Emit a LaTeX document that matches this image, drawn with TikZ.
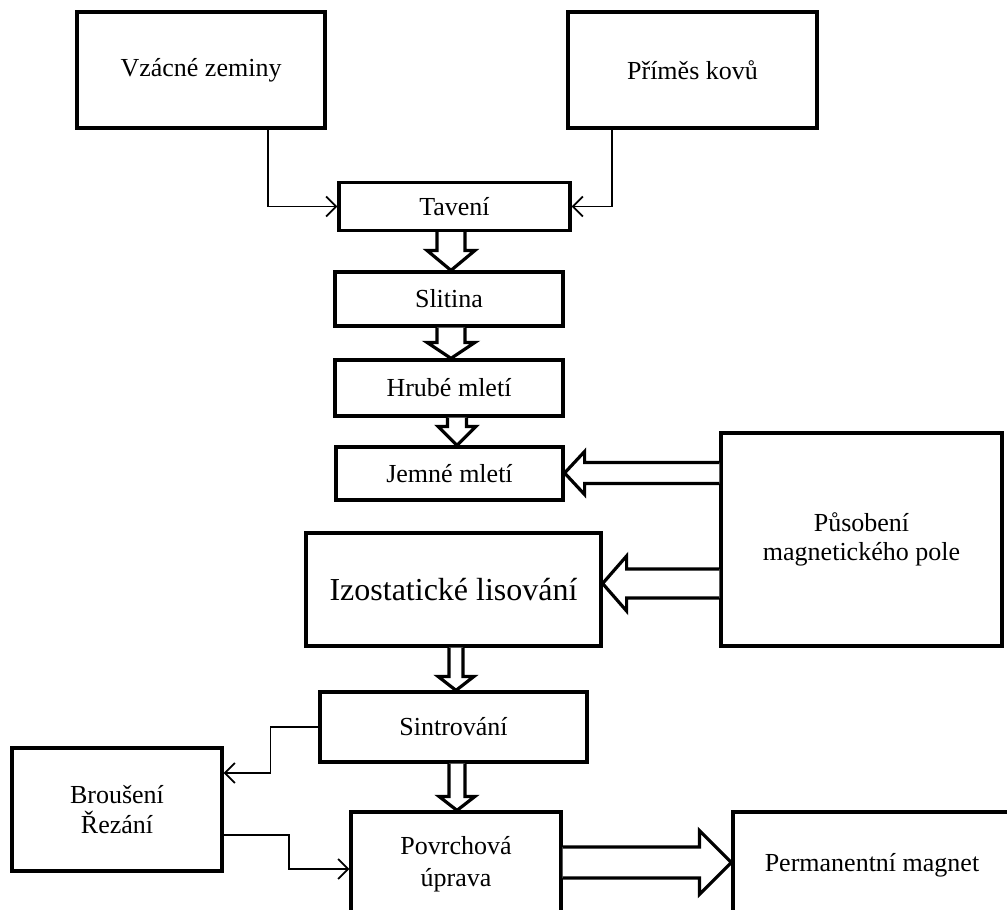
\documentclass[tikz,border=0pt]{standalone}
\usepackage{fontspec}
\setmainfont{Liberation Serif}
\usetikzlibrary{calc,arrows.meta}
\tikzset{
  box/.style={draw, line width=3.2pt, align=center, inner sep=0pt,
    font=\fontsize{26}{30}\selectfont},
  thin/.style={line width=1.8pt, -{Straight Barb[length=10pt,width=20pt,line width=1.8pt]}},
  blockarrow/.style={draw, fill=white, line width=3.2pt, line join=miter},
}
\newcommand{\BlockDown}[5]{%
  \coordinate (bT) at (#1 |- #2);
  \draw[blockarrow] ($(#1)+(-#3,0)$) -- ($(bT)+(-#3,-#5)$) -- ($(bT)+(-#4,-#5)$) -- (bT)
    -- ($(bT)+(#4,-#5)$) -- ($(bT)+(#3,-#5)$) -- ($(#1)+(#3,0)$);}
\newcommand{\BlockLeft}[5]{%
  \coordinate (bT) at (#2 |- #1);
  \draw[blockarrow] ($(#1)+(0,-#3)$) -- ($(bT)+(#5,-#3)$) -- ($(bT)+(#5,-#4)$) -- (bT)
    -- ($(bT)+(#5,#4)$) -- ($(bT)+(#5,#3)$) -- ($(#1)+(0,#3)$);}
\newcommand{\BlockRight}[5]{%
  \coordinate (bT) at (#2 |- #1);
  \draw[blockarrow] ($(#1)+(0,-#3)$) -- ($(bT)+(-#5,-#3)$) -- ($(bT)+(-#5,-#4)$) -- (bT)
    -- ($(bT)+(-#5,#4)$) -- ($(bT)+(-#5,#3)$) -- ($(#1)+(0,#3)$);}
\begin{document}
\begin{tikzpicture}[x=1pt,y=-1pt]
\useasboundingbox (0,0) rectangle (1007,910);
\clip (0,0) rectangle (1007,910);
\fill[white] (0,0) rectangle (1007,910);
% boxes
\node[box, minimum width=248pt, minimum height=116pt] (vz) at (201,70) {Vzácné zeminy};
\node[box, minimum width=249pt, minimum height=116pt] (pr) at (692.5,70) {Příměs kovů};
\node[box, minimum width=231pt, minimum height=48pt] (tav) at (454.5,206.5) {Tavení};
\node[box, minimum width=228pt, minimum height=54pt] (sl) at (449,299) {Slitina};
\node[box, minimum width=228pt, minimum height=56pt] (hr) at (449,388) {Hrubé mletí};
\node[box, minimum width=227pt, minimum height=53pt] (jm) at (449.5,473.5) {Jemné mletí};
\node[box, minimum width=295pt, minimum height=113pt, font=\fontsize{32}{36}\selectfont] (iz) at (453.5,589.5) {Izostatické lisování};
\node[box, minimum width=281pt, minimum height=213pt, font=\fontsize{26}{29}\selectfont] (pu) at (861.5,539.5) {Působení\\magnetického pole};
\node[box, minimum width=267pt, minimum height=70pt] (si) at (453.5,727) {Sintrování};
\node[box, minimum width=210pt, minimum height=123pt] (br) at (117,809.5) {Broušení\\Řezání};
\node[box, minimum width=210pt, minimum height=104pt, font=\fontsize{26}{32}\selectfont] (pv) at (456,864) {Povrchová\\úprava};
\node[box, minimum width=278pt, minimum height=106pt] (pm) at (872,865) {Permanentní magnet};
% thin connectors
\draw[thin] ($(vz.south)+(67,0)$) |- (tav.west);
\draw[thin] ($(pr.south)+(-80.5,0)$) |- (tav.east);
\draw[thin] (si.west) -- ++(-48,0) |- ($(br.east)+(0,-36.5)$);
\draw[thin] ($(br.east)+(0,25.5)$) -- ++(65,0) |- ($(pv.west)+(0,5)$);
% block arrows
\coordinate (a1) at ($(tav.south)+(-3.5,0)$);
\BlockDown{a1}{sl.north}{14}{24}{20}
\coordinate (a2) at ($(sl.south)+(2,0)$);
\BlockDown{a2}{hr.north}{14}{24}{16}
\coordinate (a3) at ($(hr.south)+(8,0)$);
\BlockDown{a3}{jm.north}{9.5}{19}{19}
\coordinate (a4) at ($(iz.south)+(2.5,0)$);
\BlockDown{a4}{si.north}{7}{18}{14}
\coordinate (a5) at ($(si.south)+(3.5,0)$);
\BlockDown{a5}{pv.north}{8}{18}{14}
\coordinate (a6) at ($(pu.west)+(0,-66.5)$);
\BlockLeft{a6}{jm.east}{10.5}{21.5}{20}
\coordinate (a7) at ($(pu.west)+(0,44)$);
\BlockLeft{a7}{iz.east}{14.5}{27.5}{24}
\coordinate (a8) at ($(pv.east)+(0,-1.5)$);
\BlockRight{a8}{pm.west}{15.5}{32}{32}
\end{tikzpicture}
\end{document}
